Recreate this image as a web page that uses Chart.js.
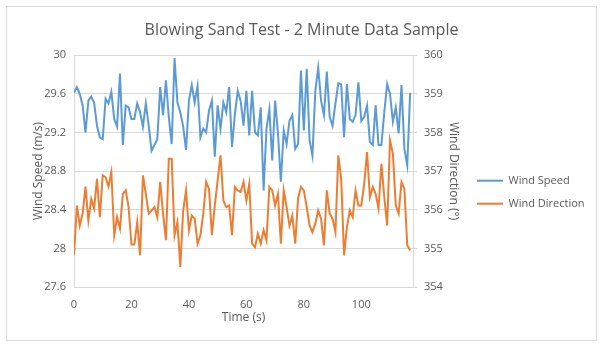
<!DOCTYPE html>
<html>
<head>
<meta charset="utf-8">
<script src="https://cdn.jsdelivr.net/npm/chart.js@4"></script>
<style>
  html, body { margin: 0; padding: 0; background: #fff; }
  #frame {
    position: absolute; left: 6px; top: 6px;
    width: 589px; height: 333px;
    border: 1px solid #d9d9d9;
    background: #fff;
  }
</style>
</head>
<body>
<div id="frame"><canvas id="chart" width="589" height="333"></canvas></div>
<script>
// time axis (s)
const times = [
  0, 1, 2, 3, 4, 5, 6, 7, 8, 9, 10, 11, 12, 13, 14, 15, 16, 17, 18, 19,
  20, 21, 22, 23, 24, 25, 26, 27, 28, 29, 30, 31, 32, 33, 34, 35, 36, 37, 38, 39,
  40, 41, 42, 43, 44, 45, 46, 47, 48, 49, 50, 51, 52, 53, 54, 55, 56, 57, 58, 59,
  60, 61, 62, 63, 64, 65, 66, 67, 68, 69, 70, 71, 72, 73, 74, 75, 76, 77, 78, 79,
  80, 81, 82, 83, 84, 85, 86, 87, 88, 89, 90, 91, 92, 93, 94, 95, 96, 97, 98, 99,
  100, 101, 102, 103, 104, 105, 106, 107, 108, 109, 110, 111, 112, 113, 114, 115, 116, 117
];

// wind speed (m/s)
const windSpeed = [
  29.61, 29.67, 29.60, 29.48, 29.20, 29.53, 29.57, 29.51, 29.27, 29.15,
  29.13, 29.55, 29.50, 29.62, 29.34, 29.26, 29.81, 29.07, 29.48, 29.46,
  29.34, 29.34, 29.50, 29.41, 29.26, 29.50, 29.27, 29.01, 29.07, 29.13,
  29.67, 29.38, 29.74, 29.36, 29.08, 29.97, 29.51, 29.41, 29.26, 29.02,
  29.53, 29.69, 29.51, 29.68, 29.15, 29.24, 29.20, 29.43, 29.53, 28.95,
  29.48, 29.24, 29.51, 29.41, 29.67, 29.05, 29.39, 29.63, 29.53, 29.27,
  29.63, 29.17, 29.63, 29.20, 29.17, 29.46, 28.60, 29.24, 29.44, 28.91,
  29.53, 29.19, 28.69, 29.22, 29.08, 29.32, 29.38, 29.03, 29.08, 29.84,
  29.22, 29.86, 29.12, 28.96, 29.63, 29.87, 29.53, 29.38, 29.83, 29.36,
  29.27, 29.50, 29.71, 29.70, 29.15, 29.70, 29.34, 29.31, 29.38, 29.72,
  29.32, 29.36, 29.48, 29.10, 29.07, 29.48, 29.07, 29.07, 29.41, 29.70,
  29.60, 29.31, 29.46, 29.19, 29.69, 29.03, 28.86, 29.61
];

// wind direction (deg)
const windDirection = [
  354.82, 356.11, 355.59, 355.90, 356.60, 355.72, 356.28, 356.03, 356.80, 355.81,
  356.89, 356.84, 356.60, 356.97, 355.34, 355.81, 355.51, 356.41, 356.50, 356.07,
  355.10, 355.10, 355.68, 354.82, 356.89, 356.41, 355.90, 355.98, 356.07, 355.81,
  356.72, 355.90, 355.21, 357.32, 357.32, 355.34, 355.68, 354.52, 355.98, 356.50,
  355.47, 355.85, 355.77, 355.12, 355.34, 355.90, 356.72, 356.54, 355.34, 356.11,
  356.76, 357.41, 356.24, 356.07, 356.11, 355.34, 356.59, 356.50, 356.46, 356.72,
  356.24, 356.67, 355.12, 355.03, 355.38, 355.12, 355.47, 355.21, 356.59, 356.50,
  356.11, 356.41, 355.12, 356.50, 356.07, 355.59, 355.85, 355.12, 356.30, 356.59,
  356.50, 356.07, 355.59, 355.42, 355.64, 355.98, 355.77, 355.08, 356.50, 355.90,
  355.77, 355.42, 357.41, 356.80, 354.82, 355.55, 355.98, 355.81, 356.50, 356.11,
  356.11, 356.67, 357.49, 356.33, 356.59, 356.41, 356.03, 357.19, 356.33, 355.59,
  357.79, 357.45, 356.11, 355.90, 356.72, 356.54, 355.08, 354.95
];

const timeTicks = [0, 20, 40, 60, 80, 100];
const speedTicks = [27.6, 28, 28.4, 28.8, 29.2, 29.6, 30];
const directionTicks = [354, 355, 356, 357, 358, 359, 360];

const textColor = '#595959';
const gridColor = '#d9d9d9';
const fontFamily = "'Open Sans', 'Liberation Sans', sans-serif";
const legendWidth = 121;

const toPoints = vals => vals.map((v, i) => ({ x: times[i], y: v }));

const chart = new Chart(document.getElementById('chart'), {
  type: 'line',
  data: {
    datasets: [{
      label: 'Wind Speed',
      data: toPoints(windSpeed),
      borderColor: '#5b9bd5',
      backgroundColor: '#5b9bd5',
      borderWidth: 2,
      pointRadius: 0,
      tension: 0,
      yAxisID: 'y'
    }, {
      label: 'Wind Direction',
      data: toPoints(windDirection),
      borderColor: '#ed7d31',
      backgroundColor: '#ed7d31',
      borderWidth: 2,
      pointRadius: 0,
      tension: 0,
      yAxisID: 'y1'
    }]
  },
  options: {
    responsive: false,
    animation: false,
    layout: { padding: { top: 4, right: 10, bottom: 11, left: 10 } },
    plugins: {
      title: {
        display: true,
        text: 'Blowing Sand Test - 2 Minute Data Sample',
        color: textColor,
        font: { family: fontFamily, size: 16, weight: 'normal' },
        padding: { top: 10, bottom: 15 }
      },
      legend: {
        position: 'right',
        // empty title only pushes the entries down a little, like the original
        title: { display: true, text: '', padding: 15, font: { size: 12 } },
        labels: {
          color: textColor,
          font: { family: fontFamily, size: 11 },
          usePointStyle: true,
          pointStyle: 'line',
          pointStyleWidth: 26,
          padding: 12
        }
      },
      tooltip: { enabled: false }
    },
    scales: {
      x: {
        type: 'linear',
        min: 0,
        max: 118,
        afterBuildTicks: s => { s.ticks = timeTicks.map(v => ({ value: v })); },
        afterFit: s => { s.height = 42; },
        ticks: { color: textColor, font: { family: fontFamily, size: 11 }, maxRotation: 0 },
        grid: { display: false },
        border: { color: gridColor },
        title: {
          display: true, text: 'Time (s)', color: textColor,
          font: { family: fontFamily, size: 12 }
        }
      },
      y: {
        position: 'left',
        min: 27.6,
        max: 30,
        afterBuildTicks: s => { s.ticks = speedTicks.map(v => ({ value: v })); },
        afterFit: s => { s.width = 57; },
        ticks: {
          color: textColor, font: { family: fontFamily, size: 11 }, padding: 8,
          callback: v => String(parseFloat(v.toFixed(1)))
        },
        grid: { color: gridColor, drawTicks: false },
        border: { color: gridColor },
        title: {
          display: true, text: 'Wind Speed (m/s)', color: textColor,
          font: { family: fontFamily, size: 12 }, padding: { top: 14, bottom: 4 }
        }
      },
      y1: {
        position: 'right',
        min: 354,
        max: 360,
        afterBuildTicks: s => { s.ticks = directionTicks.map(v => ({ value: v })); },
        afterFit: s => { s.width = 52; },
        ticks: { color: textColor, font: { family: fontFamily, size: 11 }, padding: 7 },
        grid: { drawOnChartArea: false, color: gridColor, tickLength: 4 },
        border: { color: gridColor },
        title: {
          display: true, text: 'Wind Direction (°)', color: textColor,
          font: { family: fontFamily, size: 12 }
        }
      }
    }
  }
});

// the layout caps side boxes at a third of half the width; give the legend room
const legend = chart.legend;
const baseFit = legend.fit;
legend.fit = function () {
  this.maxWidth = 300;
  baseFit.call(this);
  this.width = legendWidth;
};
chart.update();
</script>
</body>
</html>
